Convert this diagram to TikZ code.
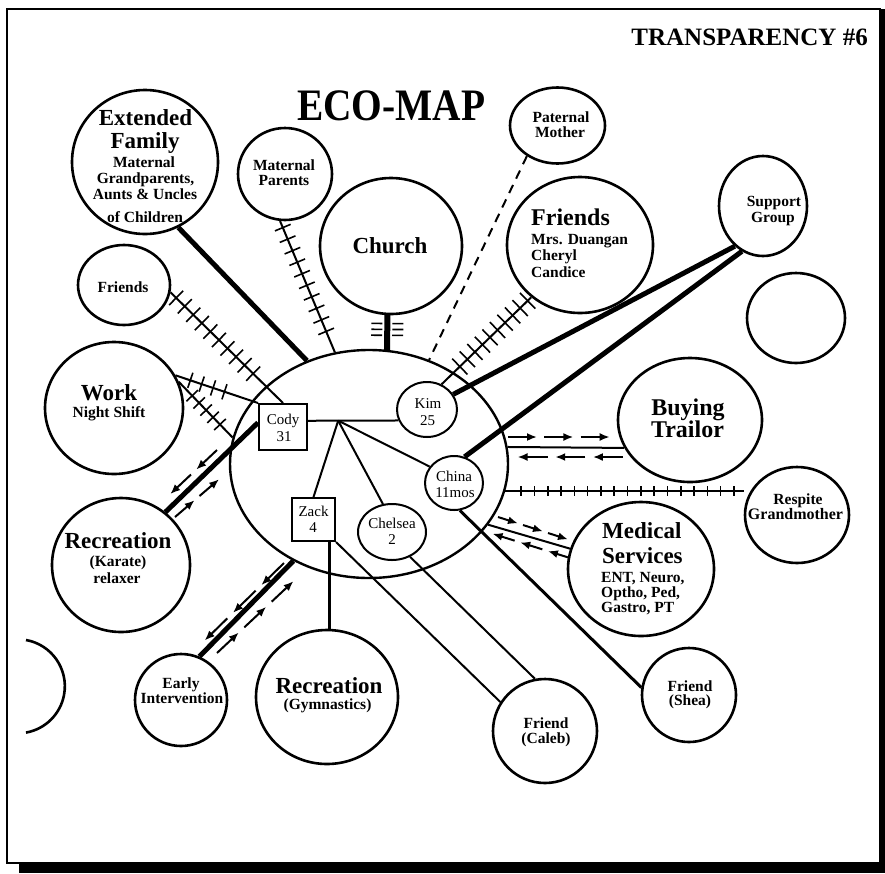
\documentclass[tikz,border=0pt]{standalone}
\usepackage{fontspec}
\usepackage{graphicx}
\setmainfont{Liberation Serif}
\usetikzlibrary{shapes.geometric,arrows.meta,calc,decorations.markings}

% A run of short arrows from #1 to #2, #3 of them
\newcommand\arrowrun[3]{%
  \foreach \k in {1,...,#3}{%
    \pgfmathsetmacro\ua{(\k-1)/#3}%
    \pgfmathsetmacro\ub{(\k-0.2)/#3}%
    \draw[arrowseg] ($(#1)!\ua!(#2)$) -- ($(#1)!\ub!(#2)$);
  }}

\begin{document}
\begin{tikzpicture}[x=1pt,y=-1pt,
  ring/.style 2 args={draw, ellipse, line width=2.6pt, inner sep=0pt,
    minimum width=#1, minimum height=#2},
  box/.style={draw, rectangle, line width=2pt, inner sep=0pt},
  big/.style={font=\fontsize{23}{24}\selectfont\bfseries, inner sep=0pt, anchor=base},
  small/.style={font=\fontsize{15.5}{16}\selectfont\bfseries, inner sep=0pt, anchor=base},
  member/.style={font=\fontsize{15}{15}\selectfont, inner sep=0pt, anchor=base},
  link/.style={line width=2pt},
  strong/.style={line width=5pt},
  arrowseg/.style={line width=2pt, -{Latex[length=10pt,width=8pt]}},
  tick/.style={solid, line width=1.6pt},
  hatched/.style n args={4}{postaction={decorate, decoration={markings,
     mark=between positions #1 and #2 step #3 with {\draw[tick] (0,-#4) -- (0,#4);}}}},
  flanked/.style n args={3}{postaction={decorate, decoration={markings,
     mark=between positions #1 and #2 step #3 with {\draw[tick] (0,5pt) -- (0,16pt) (0,-5pt) -- (0,-16pt);}}}}
]
\useasboundingbox (0,0) rectangle (885,873);
\fill[white] (0,0) rectangle (885,873);

% page frame with drop shadow
\draw[line width=2pt] (7,9) rectangle (880,863);
\fill (880,9) rectangle (885,873);
\fill (19,863) rectangle (885,873);

% headings
\node[anchor=base east, inner sep=0pt, font=\fontsize{25}{25}\selectfont\bfseries] (tag) at (868,45) {TRANSPARENCY \#6};
\node[anchor=base west, inner sep=0pt, font=\fontsize{45}{45}\selectfont\bfseries] (title) at (297,120) {\scalebox{0.875}[1]{ECO-MAP}};

% outer systems
\node[ring={146pt}{144pt}] (ext) at (145,162) {};
\node[ring={94pt}{92pt}] (matp) at (285,174) {};
\node[ring={142pt}{136pt}] (church) at (391,246) {};
\node[ring={95pt}{76pt}] (patm) at (557.5,125.5) {};
\node[ring={146pt}{136pt}] (frR) at (580,245) {};
\node[ring={88pt}{100pt}] (supp) at (763,206) {};
\node[ring={98pt}{90pt}] (spare) at (796,318) {};
\node[ring={92pt}{80pt}] (frL) at (124,285) {};
\node[ring={138pt}{132pt}] (work) at (114,408) {};
\node[ring={138pt}{134pt}] (karate) at (121,565) {};
\node[ring={92pt}{92pt}] (early) at (181,700) {};
\node[ring={142pt}{134pt}] (gym) at (327,697) {};
\node[ring={104pt}{104pt}] (caleb) at (545,731) {};
\node[ring={94pt}{94pt}] (shea) at (689,695) {};
\node[ring={146pt}{134pt}] (med) at (641,569) {};
\node[ring={104pt}{96pt}] (respite) at (797,515) {};
\node[ring={144pt}{124pt}] (trailer) at (690,420) {};
\draw[line width=2.6pt] (26,640) arc[start angle=80, end angle=-80, radius=47pt];

% household
\node[ring={278pt}{228pt}, line width=2.4pt] (family) at (369,464) {};
\node[ring={60pt}{55pt}, line width=2pt] (kim) at (427,409.5) {};
\node[ring={58pt}{54pt}, line width=2pt] (china) at (454,483) {};
\node[ring={68pt}{56pt}, line width=2pt] (chelsea) at (392,532) {};
\node[box, minimum width=48pt, minimum height=46pt] (cody) at (283,427) {};
\node[box, minimum width=43pt, minimum height=43pt] (zack) at (313.5,519.5) {};

% ties inside the household
\draw[link] (cody.14) -- (kim.201) coordinate[pos=0.334] (hub);
\draw[link] (hub) -- (zack.north);
\draw[link] (hub) -- (chelsea.108);
\draw[link] (hub) -- (china.146);

% strong ties
\draw[strong] (ext.-63) -- (family.121);
\draw[strong] (supp.-125) -- (kim.30);
\draw[strong] (supp.-115) -- (china.68);
\draw[strong] (cody.170) -- (karate.50);
\draw[strong] (family.-128) -- (early.67);
\draw[line width=6pt, flanked={0.24}{0.72}{5.9pt}] (church.-93) -- (family.81);

% stressful ties
\draw[link, hatched={0.05}{0.9}{12.5pt}{8.5pt}] (matp.-96) -- (family.107.5);
\draw[link, hatched={0.05}{0.78}{12pt}{10pt}] (frL.-9) -- (cody.north);
\draw[link, hatched={0.18}{0.72}{12pt}{8pt}] (work.28) -- (cody.north west);
\draw[link, hatched={0.25}{0.85}{10pt}{8pt}] (work.22) -- (family.169);
\draw[link, hatched={0.04}{0.87}{10.5pt}{11pt}] (frR.-133) -- (kim.60);
\draw[link, hatched={0.066}{0.96}{13.3pt}{5pt}] (family.-11) -- (family.-11 -| respite.west);

% tenuous tie
\draw[link, dash pattern=on 9pt off 7pt] (patm.-135) -- (family.60);

% ordinary ties
\draw[link, line width=2.5pt] (zack.-55) -- (zack.-55 |- gym.north);
\draw[link] (zack.south east) -- (caleb.147);
\draw[link] (chelsea.-54) -- (caleb.101);
\draw[link, line width=3pt] (china.-78) -- (shea.171);
\draw[link] (family.7) -- (trailer.203);
\draw[link] (family.-27) -- (med.164);

% flow of energy
\coordinate (buyA) at (508,437); \coordinate (buyB) at (617,437);
\coordinate (buyC) at (623,457); \coordinate (buyD) at (510,457);
\arrowrun{buyA}{buyB}{3}
\arrowrun{buyC}{buyD}{3}
\coordinate (medA) at (498,517); \coordinate (medB) at (573,541);
\coordinate (medC) at (570,558); \coordinate (medD) at (487,532);
\arrowrun{medA}{medB}{3}
\arrowrun{medC}{medD}{3}
\coordinate (karA) at (217,450); \coordinate (karB) at (165,499);
\coordinate (karC) at (175,517); \coordinate (karD) at (224,475);
\arrowrun{karA}{karB}{2}
\arrowrun{karC}{karD}{2}
\coordinate (eiA) at (284,563); \coordinate (eiB) at (199,646);
\coordinate (eiC) at (217,653); \coordinate (eiD) at (299,576);
\arrowrun{eiA}{eiB}{3}
\arrowrun{eiC}{eiD}{3}

% labels
\node[big] (t-ext1) at (145.5,125) {Extended};
\node[big] (t-ext2) at (145,148) {Family};
\node[small] (t-ext3) at (144,167) {Maternal};
\node[small] (t-ext4) at (145.5,183) {Grandparents,};
\node[small] (t-ext5) at (145,199) {Aunts \& Uncles};
\node[small] (t-ext6) at (145,222) {of Children};

\node[small] (t-matp1) at (284,170) {Maternal};
\node[small] (t-matp2) at (284,185) {Parents};

\node[big] (t-church) at (390,253) {Church};

\node[small] (t-frL) at (123,292) {Friends};

\node[big] (t-work1) at (109,400) {Work};
\node[small] (t-work2) at (109,417) {Night Shift};

\node[big] (t-kar1) at (118,548) {Recreation};
\node[small] (t-kar2) at (118,566) {(Karate)};
\node[small] (t-kar3) at (117,583) {relaxer};

\node[small] (t-early1) at (181,688) {Early};
\node[small] (t-early2) at (182,703) {Intervention};

\node[big] (t-gym1) at (329,693) {Recreation};
\node[small] (t-gym2) at (327.5,709) {(Gymnastics)};

\node[small] (t-patm1) at (561,122) {Paternal};
\node[small] (t-patm2) at (560,137) {Mother};

\node[big, anchor=base west, font=\fontsize{24}{24}\selectfont\bfseries] (t-frR1) at (531,225) {Friends};
\node[small, anchor=base west] (t-frR2) at (531,244) {Mrs. Duangan};
\node[small, anchor=base west] (t-frR3) at (531,260) {Cheryl};
\node[small, anchor=base west] (t-frR4) at (531,277) {Candice};

\node[small] (t-supp1) at (774,206) {Support};
\node[small] (t-supp2) at (773,222) {Group};

\node[big, font=\fontsize{24}{24}\selectfont\bfseries] (t-buy1) at (688,415) {Buying};
\node[big, font=\fontsize{24}{24}\selectfont\bfseries] (t-buy2) at (687.5,437) {Trailor};

\node[small] (t-resp1) at (798,504) {Respite};
\node[small, font=\fontsize{16}{16}\selectfont\bfseries] (t-resp2) at (795.5,519) {Grandmother};

\node[big, anchor=base west] (t-med1) at (602,538) {Medical};
\node[big, anchor=base west] (t-med2) at (602,563) {Services};
\node[small, anchor=base west] (t-med3) at (601,582) {ENT, Neuro,};
\node[small, anchor=base west] (t-med4) at (601,597) {Optho, Ped,};
\node[small, anchor=base west] (t-med5) at (601,612) {Gastro, PT};

\node[small] (t-shea1) at (690,691) {Friend};
\node[small] (t-shea2) at (690,705) {(Shea)};

\node[small] (t-caleb1) at (546,728) {Friend};
\node[small] (t-caleb2) at (546,743) {(Caleb)};

\node[member] (t-cody1) at (283,424) {Cody};
\node[member] (t-cody2) at (284,441) {31};
\node[member] (t-kim1) at (428,408) {Kim};
\node[member] (t-kim2) at (427.5,425) {25};
\node[member] (t-china1) at (454,481) {China};
\node[member] (t-china2) at (455,497) {11mos};
\node[member] (t-chel1) at (392,528) {Chelsea};
\node[member] (t-chel2) at (392,544) {2};
\node[member] (t-zack1) at (313.5,516) {Zack};
\node[member] (t-zack2) at (313,532) {4};
\end{tikzpicture}
\end{document}
